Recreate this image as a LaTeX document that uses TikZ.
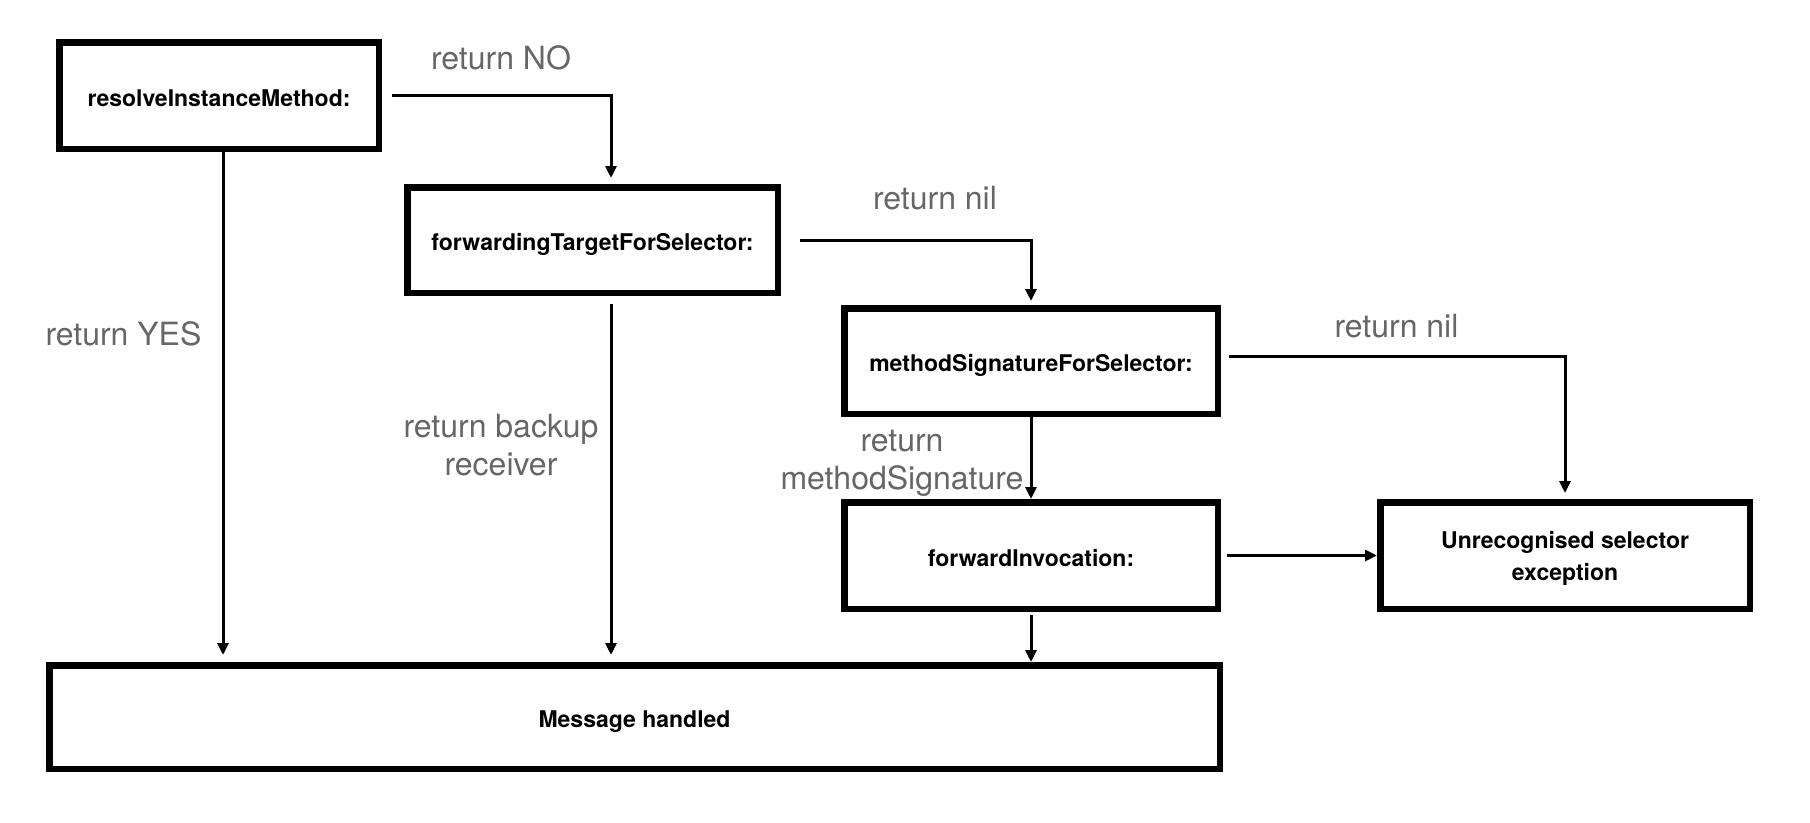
\documentclass[tikz,border=0pt]{standalone}
\usepackage{fontspec}
\setmainfont{TeX Gyre Heros}
\usetikzlibrary{arrows.meta}
\definecolor{labgray}{HTML}{666666}
\begin{document}
\begin{tikzpicture}[x=1pt,y=-1pt,
  box/.style={draw=black,line width=6.5pt,inner sep=0pt,align=center,
    font=\fontsize{23}{32}\selectfont\bfseries},
  onel/.style={text height=21pt,text depth=0pt},
  conn/.style={draw=black,line width=3pt,-{Triangle[length=12pt,width=11pt]}},
  lab/.style={text=labgray,align=center,inner sep=0pt,
    font=\fontsize{32}{38}\selectfont}]
\useasboundingbox[fill=white] (0,0) rectangle (1810,822);

% boxes
\node[box,onel,minimum width=319.5pt,minimum height=106.5pt] (rim) at (219,95.5) {resolveInstanceMethod:};
\node[box,onel,minimum width=370.5pt,minimum height=105.5pt] (fwd) at (592.5,240) {forwardingTargetForSelector:};
\node[box,onel,minimum width=373.5pt,minimum height=105.5pt] (msig) at (1031,361) {methodSignatureForSelector:};
\node[box,onel,minimum width=373.5pt,minimum height=106.5pt] (finv) at (1031,555.5) {forwardInvocation:};
\node[box,minimum width=369.5pt,minimum height=106.5pt] (unrec) at (1565,555.5) {\rule{0pt}{23pt}Unrecognised selector\\exception};
\node[box,onel,minimum width=1170.5pt,minimum height=103.5pt] (msg) at (634.5,717) {Message handled};

% connectors
\draw[conn] ([xshift=10pt]rim.east) -| ([xshift=18.5pt,yshift=6pt]fwd.north);
\draw[conn] ([xshift=19pt]fwd.east) -| ([yshift=4pt]msig.north);
\draw[conn] ([xshift=8pt,yshift=5pt]msig.east) -| ([yshift=6pt]unrec.north);
\draw[conn] (msig.south) -- (finv.north);
\draw[conn] ([xshift=6pt]finv.east) -- (unrec.west);
\draw[conn,shorten <=3pt] (finv.south) -- (finv.south |- msg.north);
\coordinate (r1) at ([xshift=4pt]rim.south);
\draw[conn,shorten >=7pt] (r1) -- (r1 |- msg.north);
\coordinate (f1) at ([xshift=18.5pt]fwd.south);
\draw[conn,shorten <=7.5pt,shorten >=7pt] (f1) -- (f1 |- msg.north);

% labels
\node[lab] (lno) at (501,58) {return NO};
\node[lab] (lnil1) at (935,198.5) {return nil};
\node[lab] (lnil2) at (1396.5,326) {return nil};
\node[lab] (lyes) at (123.5,333.5) {return YES};
\node[lab] (lbak) at (501,445) {return backup\\receiver};
\node[lab] (lms) at (902,463) {return\\methodSignature};
\end{tikzpicture}
\end{document}
